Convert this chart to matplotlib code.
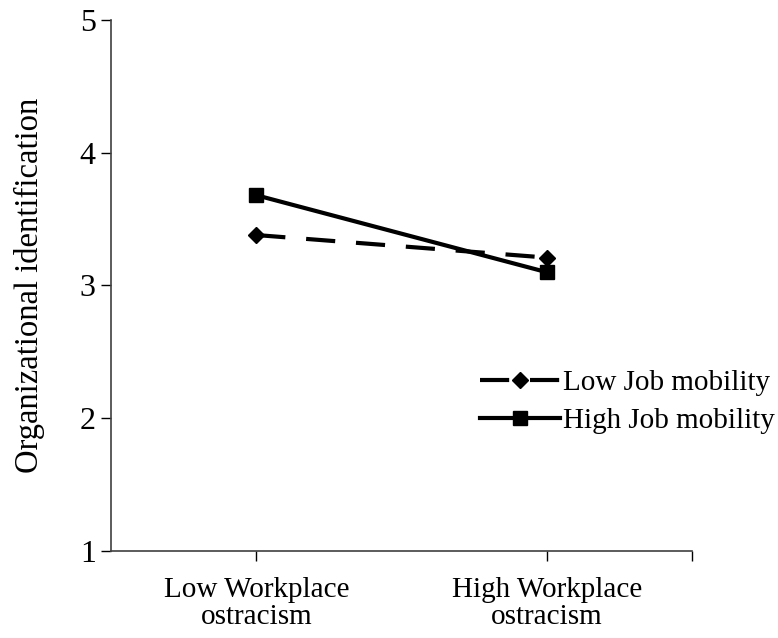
import matplotlib.pyplot as plt

categories = ["Low Workplace\nostracism", "High Workplace\nostracism"]
low_mobility = [3.38, 3.21]
high_mobility = [3.68, 3.10]
yticks = [1, 2, 3, 4, 5]

plt.rcParams["font.family"] = ["Liberation Serif", "DejaVu Serif"]

fig = plt.figure(figsize=(7.78, 6.38), dpi=100)
ax = fig.add_axes([0.1427, 0.1364, 0.7468, 0.8323])

xpos = [0.5, 1.5]
ax.plot(xpos, low_mobility, color="black", lw=3, ls=(0, (7, 5)),
        marker="D", markersize=8, label="Low Job mobility")
ax.plot(xpos, high_mobility, color="black", lw=3, ls="-",
        marker="s", markersize=10, label="High Job mobility")

ax.set_xlim(0, 2)
ax.set_ylim(1, 5)
ax.set_yticks(yticks)
ax.set_xticks(xpos)
ax.set_xticklabels(categories, fontsize=21, linespacing=1.05)
ax.tick_params(axis="y", labelsize=23, length=7, width=1, direction="out", pad=4)
ax.tick_params(axis="x", length=7, width=1, direction="out", pad=12)
ax.set_xticks([2.0], minor=True)
ax.tick_params(axis="x", which="minor", length=7, width=1)

for side in ["top", "right"]:
    ax.spines[side].set_visible(False)
for side in ["left", "bottom"]:
    ax.spines[side].set_color("#404040")
    ax.spines[side].set_linewidth(1.2)

ax.set_ylabel("Organizational identification", fontsize=23.5, labelpad=25)

ax.legend(loc="center left", bbox_to_anchor=(0.635, 0.281), frameon=False,
          fontsize=21, handlelength=2.74, handletextpad=0.1, labelspacing=0.38,
          borderpad=0, borderaxespad=0)

fig.savefig("out.png", dpi=100)
